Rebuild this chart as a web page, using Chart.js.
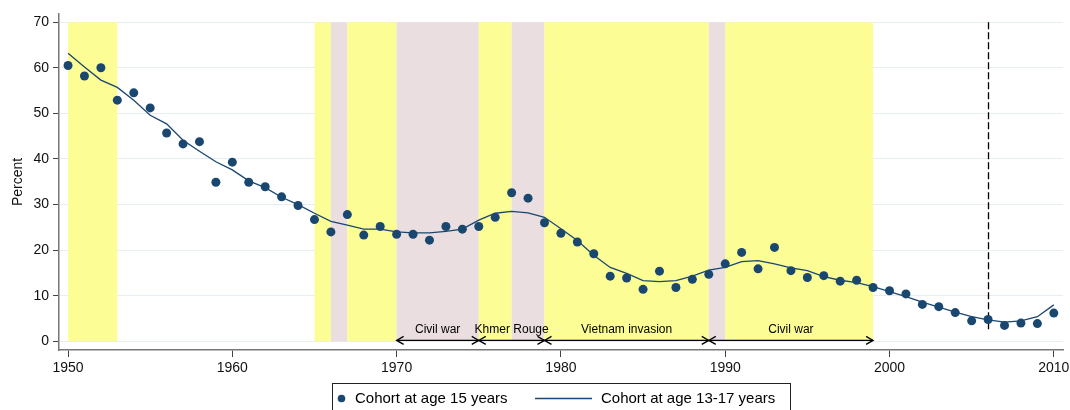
<!DOCTYPE html>
<html>
<head>
<meta charset="utf-8">
<script src="https://cdn.jsdelivr.net/npm/chart.js@4.4.0/dist/chart.umd.min.js"></script>
<style>
  html, body { margin: 0; padding: 0; background: #fff; }
  canvas { display: block; }
</style>
</head>
<body>
<canvas id="chart" width="1070" height="410"></canvas>
<script>
// Years on the x axis
const years = [
  1950, 1951, 1952, 1953, 1954, 1955, 1956, 1957, 1958, 1959,
  1960, 1961, 1962, 1963, 1964, 1965, 1966, 1967, 1968, 1969,
  1970, 1971, 1972, 1973, 1974, 1975, 1976, 1977, 1978, 1979,
  1980, 1981, 1982, 1983, 1984, 1985, 1986, 1987, 1988, 1989,
  1990, 1991, 1992, 1993, 1994, 1995, 1996, 1997, 1998, 1999,
  2000, 2001, 2002, 2003, 2004, 2005, 2006, 2007, 2008, 2009, 2010,
];
// Cohort at age 15 (dots)
const age15 = [
  60.5, 58.2, 60.0, 52.9, 54.5, 51.2, 45.7, 43.3, 43.8, 34.9,
  39.3, 34.9, 33.9, 31.7, 29.8, 26.7, 24.0, 27.8, 23.3, 25.2,
  23.5, 23.5, 22.2, 25.2, 24.6, 25.2, 27.2, 32.6, 31.4, 26.0,
  23.7, 21.8, 19.2, 14.3, 13.9, 11.4, 15.4, 11.8, 13.6, 14.7,
  17.0, 19.5, 15.9, 20.6, 15.5, 14.0, 14.4, 13.2, 13.4, 11.8,
  11.1, 10.4, 8.1, 7.6, 6.3, 4.5, 4.8, 3.5, 4.0, 3.9, 6.2,
];
// Cohort at age 13-17 (line)
const age13to17 = [
  63.2, 60.2, 57.3, 55.7, 52.9, 49.6, 47.7, 44.1, 41.7, 39.4,
  37.6, 35.2, 33.7, 31.6, 30.0, 28.1, 26.3, 25.5, 24.6, 24.6,
  24.0, 23.8, 23.8, 24.1, 24.6, 26.6, 28.1, 28.5, 28.2, 27.2,
  24.7, 22.1, 18.9, 16.2, 14.9, 13.3, 13.1, 13.3, 14.3, 15.6,
  16.2, 17.5, 17.7, 17.0, 16.1, 15.5, 14.2, 13.4, 12.9, 12.0,
  10.9, 9.8, 8.6, 7.5, 6.4, 5.4, 4.7, 4.2, 4.5, 5.4, 8.0,
];
const xTicks = [1950, 1960, 1970, 1980, 1990, 2000, 2010];
const yTicks = [0, 10, 20, 30, 40, 50, 60, 70];

// Shaded background periods
const bandStart = [1950, 1965, 1966, 1967, 1970, 1975, 1977, 1979, 1989, 1990];
const bandEnd   = [1953, 1966, 1967, 1970, 1975, 1977, 1979, 1989, 1990, 1999];
const bandKind  = ['y', 'y', 'p', 'y', 'p', 'y', 'p', 'y', 'p', 'y'];

// Labelled historical periods (arrows along the bottom)
const periodStart = [1970, 1975, 1979, 1989];
const periodEnd   = [1975, 1979, 1989, 1999];
const periodLabel = ['Civil war', 'Khmer Rouge', 'Vietnam invasion', 'Civil war'];

const markYear = 2006;

const NAVY = '#1a476f';
const YELLOW = '#fdfd96';
const PINK = '#eadee0';
const FONT = '"Liberation Sans", Arial, sans-serif';

const overlay = {
  id: 'overlay',
  beforeDatasetsDraw(chart) {
    const { ctx, scales: { x, y } } = chart;
    ctx.save();
    const yTop = y.getPixelForValue(70), yBot = y.getPixelForValue(0);
    bandStart.forEach((s, i) => {
      const x0 = x.getPixelForValue(s), x1 = x.getPixelForValue(bandEnd[i]);
      ctx.fillStyle = bandKind[i] === 'p' ? PINK : YELLOW;
      ctx.fillRect(x0, yTop, x1 - x0, yBot - yTop);
    });
    // dashed marker line
    const xm = Math.round(x.getPixelForValue(markYear)) + 0.5;
    ctx.strokeStyle = '#000';
    ctx.lineWidth = 1.3;
    ctx.setLineDash([7, 3]);
    ctx.beginPath();
    ctx.moveTo(xm, yTop);
    ctx.lineTo(xm, y.getPixelForValue(2.5));
    ctx.stroke();
    ctx.restore();
  },
  afterDatasetsDraw(chart) {
    const { ctx, scales: { x, y } } = chart;
    ctx.save();
    const ya = y.getPixelForValue(0.2);
    const yt = y.getPixelForValue(2.5);
    ctx.strokeStyle = '#000';
    ctx.fillStyle = '#000';
    ctx.lineWidth = 1.3;
    ctx.font = '12px ' + FONT;
    ctx.textAlign = 'center';
    ctx.textBaseline = 'middle';
    const head = (px, dir) => {
      ctx.beginPath();
      ctx.moveTo(px + dir * 7, ya - 4);
      ctx.lineTo(px, ya);
      ctx.lineTo(px + dir * 7, ya + 4);
      ctx.stroke();
    };
    periodStart.forEach((s, i) => {
      const x0 = x.getPixelForValue(s), x1 = x.getPixelForValue(periodEnd[i]);
      ctx.beginPath();
      ctx.moveTo(x0, ya);
      ctx.lineTo(x1, ya);
      ctx.stroke();
      head(x0, 1);
      head(x1, -1);
      ctx.fillText(periodLabel[i], (x0 + x1) / 2, yt);
    });
    ctx.restore();
  },
  afterDraw(chart) {
    // legend box
    const { ctx } = chart;
    ctx.save();
    ctx.strokeStyle = '#222';
    ctx.lineWidth = 1;
    ctx.strokeRect(332.5, 383.5, 458, 40);
    ctx.fillStyle = NAVY;
    ctx.beginPath();
    ctx.arc(341.5, 398.5, 3.8, 0, Math.PI * 2);
    ctx.fill();
    ctx.strokeStyle = NAVY;
    ctx.lineWidth = 1.3;
    ctx.beginPath();
    ctx.moveTo(535, 398.5);
    ctx.lineTo(592, 398.5);
    ctx.stroke();
    ctx.fillStyle = '#000';
    ctx.font = '15px ' + FONT;
    ctx.textBaseline = 'middle';
    ctx.textAlign = 'left';
    ctx.fillText('Cohort at age 15 years', 355, 398.5);
    ctx.fillText('Cohort at age 13-17 years', 601, 398.5);
    ctx.restore();
  },
};

new Chart(document.getElementById('chart'), {
  type: 'scatter',
  plugins: [overlay],
  data: {
    datasets: [
      {
        label: 'Cohort at age 15 years',
        data: years.map((yr, i) => ({ x: yr, y: age15[i] })),
        backgroundColor: NAVY,
        borderColor: NAVY,
        pointRadius: 4.5,
        pointBorderWidth: 0,
        order: 1,
      },
      {
        label: 'Cohort at age 13-17 years',
        data: years.map((yr, i) => ({ x: yr, y: age13to17[i] })),
        showLine: true,
        borderColor: NAVY,
        borderWidth: 1.3,
        pointRadius: 0,
        tension: 0,
        order: 2,
      },
    ],
  },
  options: {
    responsive: false,
    devicePixelRatio: 1,
    animation: false,
    layout: { padding: { top: 14, right: 7, bottom: 30, left: 0 } },
    plugins: {
      legend: { display: false },
      tooltip: { enabled: false },
    },
    scales: {
      x: {
        type: 'linear',
        min: 1949.45,
        max: 2010.56,
        afterBuildTicks: (s) => { s.ticks = xTicks.map((v) => ({ value: v })); },
        afterFit: (s) => { s.height = 30; s.paddingLeft = 0; s.paddingRight = 0; },
        grid: { drawOnChartArea: false, drawTicks: true, tickLength: 7, tickColor: '#444', tickWidth: 1 },
        border: { display: true, color: '#777', width: 1.5 },
        ticks: {
          color: '#111',
          padding: 3,
          maxRotation: 0,
          font: { family: FONT, size: 14 },
          callback: (v) => String(v),
        },
      },
      y: {
        min: -1.9,
        max: 71.8,
        afterBuildTicks: (s) => { s.ticks = yTicks.map((v) => ({ value: v })); },
        afterFit: (s) => { s.width = 59; },
        grid: { color: '#e6eef1', lineWidth: 1, drawTicks: true, tickLength: 6, tickColor: '#444' },
        border: { display: true, color: '#777', width: 1.5 },
        ticks: {
          color: '#111',
          padding: 4,
          font: { family: FONT, size: 14 },
          callback: (v) => String(v),
        },
        title: {
          display: true,
          text: 'Percent',
          color: '#111',
          padding: { top: 10, bottom: 0 },
          font: { family: FONT, size: 14 },
        },
      },
    },
  },
});
</script>
</body>
</html>
